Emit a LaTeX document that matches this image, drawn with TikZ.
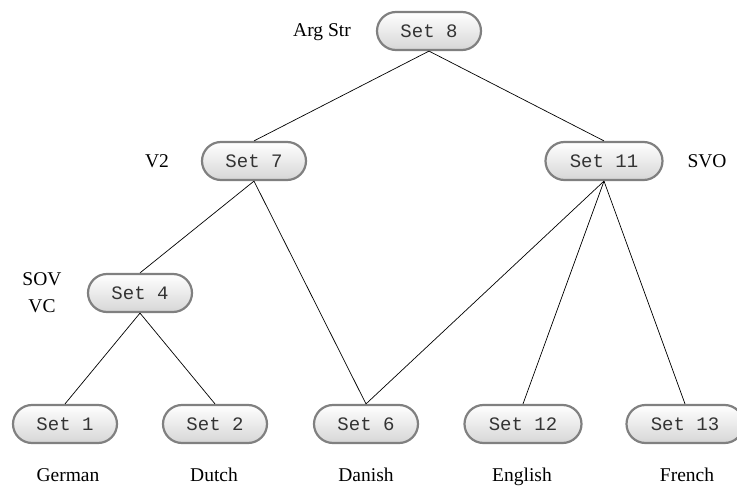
\documentclass[tikz,border=0pt]{standalone}
\usepackage{fontspec}
\setmainfont{Liberation Serif}
\newfontfamily\monof{Liberation Mono}
\begin{document}
\begin{tikzpicture}[x=1pt,y=-1pt,
  setbox/.style={draw=black!50, line width=2.2pt, rounded corners=19pt,
    top color=white, bottom color=black!16, minimum height=38pt,
    inner sep=0pt, font=\monof\fontsize{19}{20}\selectfont, text=black!80},
  narrow/.style={setbox, minimum width=104pt},
  wide/.style={setbox, minimum width=117pt},
  lbl/.style={font=\fontsize{19.5}{21}\selectfont, inner sep=0pt, anchor=base},
  edge/.style={line width=0.7pt}]
\useasboundingbox (0,0) rectangle (737,487);
\node[narrow] (s8) at (429,31) {Set 8};
\node[narrow] (s7) at (254,161) {Set 7};
\node[wide] (s11) at (604,161) {Set 11};
\node[narrow] (s4) at (140,293) {Set 4};
\node[narrow] (s1) at (65,424) {Set 1};
\node[narrow] (s2) at (215,424) {Set 2};
\node[narrow] (s6) at (366,424) {Set 6};
\node[wide] (s12) at (523,424) {Set 12};
\node[wide] (s13) at (685,424) {Set 13};
\node[lbl] (lA) at (322,37) {Arg Str};
\node[lbl] (lV) at (157,167) {V2};
\node[lbl] (lS) at (707,167) {SVO};
\node[lbl] (lSOV) at (42,285) {SOV};
\node[lbl] (lVC) at (42,312) {VC};
\node[lbl] (lG) at (68,481) {German};
\node[lbl] (lD) at (214,481) {Dutch};
\node[lbl] (lDa) at (366,481) {Danish};
\node[lbl] (lE) at (522,481) {English};
\node[lbl] (lF) at (687,481) {French};
\draw[edge] (s8.south) -- (s7.north);
\draw[edge] (s8.south) -- (s11.north);
\draw[edge] (s7.south) -- (s4.north);
\draw[edge] (s7.south) -- (s6.north);
\draw[edge] (s11.south) -- (s6.north);
\draw[edge] (s11.south) -- (s12.north);
\draw[edge] (s11.south) -- (s13.north);
\draw[edge] (s4.south) -- (s1.north);
\draw[edge] (s4.south) -- (s2.north);
\end{tikzpicture}
\end{document}
